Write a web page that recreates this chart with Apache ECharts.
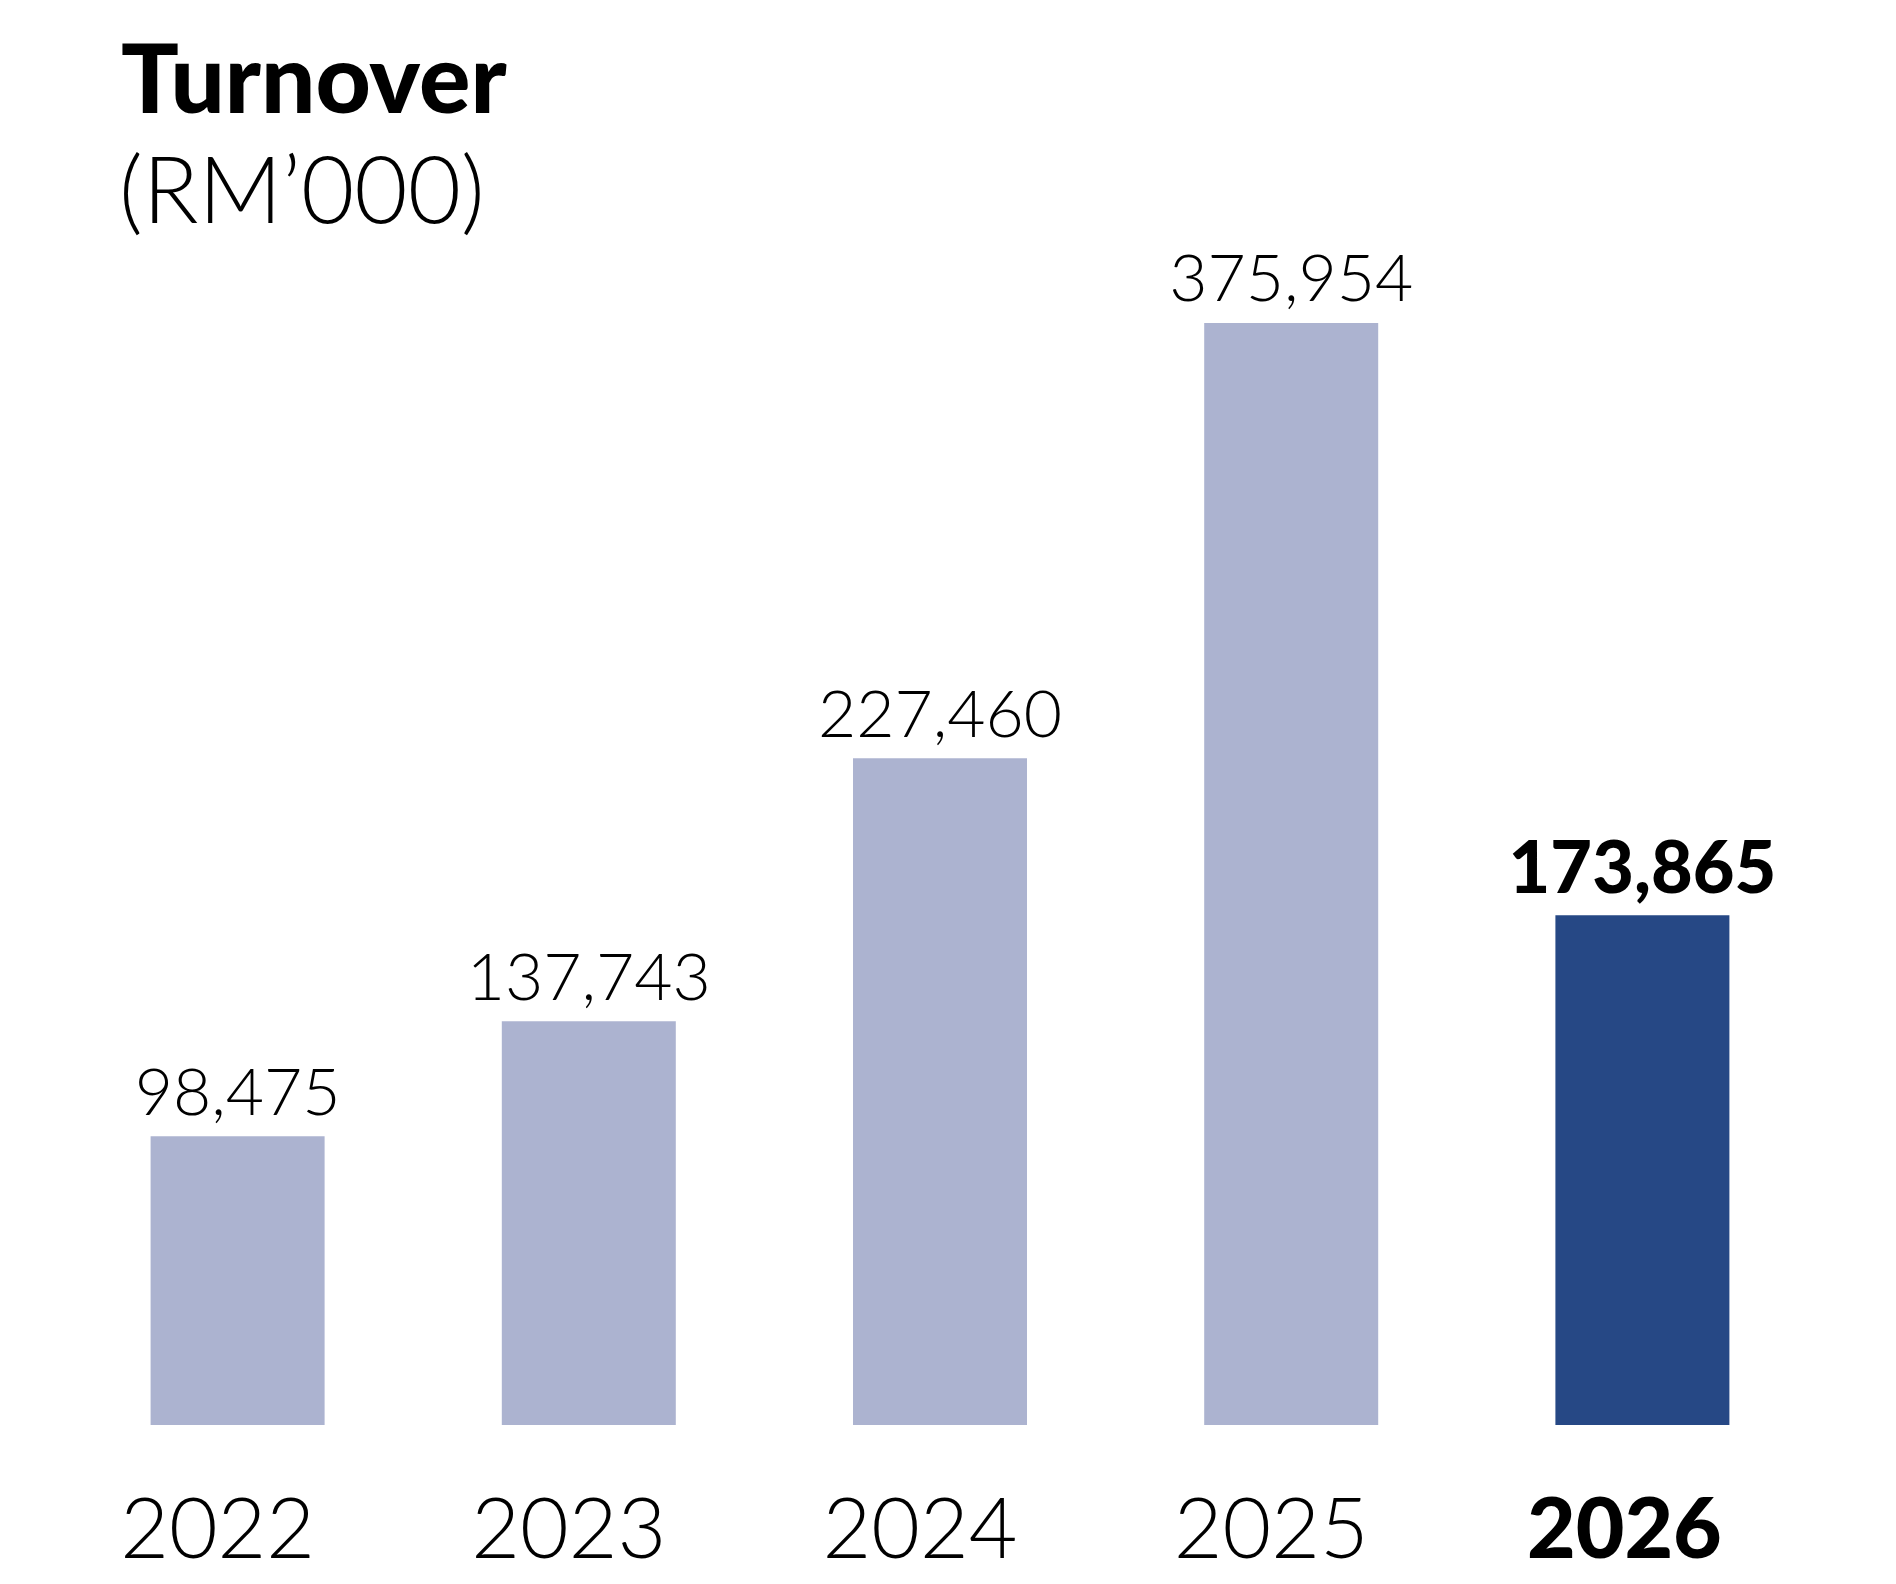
<!DOCTYPE html>
<html>
<head>
<meta charset="utf-8">
<title>Turnover</title>
<script src="https://cdn.jsdelivr.net/npm/echarts@6/dist/echarts.min.js"></script>
<style>
  html, body { margin: 0; padding: 0; background: #fff; }
  #chart { width: 1896px; height: 1584px; }
</style>
</head>
<body>
<div id="chart"></div>
<script>
// Datos del gráfico
const years = ['2022', '2023', '2024', '2025', '2026'];
const turnover = [98475, 137743, 227460, 375954, 173865];

const LIGHT = '#acb3d0';
const DARK = '#264885';
const FONT = 'Lato, "Open Sans", sans-serif';
const lastIndex = years.length - 1;

const chart = echarts.init(document.getElementById('chart'));

chart.setOption({
  animation: false,
  backgroundColor: '#fff',
  title: [
    {
      text: 'Turnover',
      left: 116,
      top: 29,
      textStyle: { fontFamily: FONT, fontWeight: 900, fontSize: 96, color: '#000' }
    },
    {
      text: '(RM’000)',
      left: 114,
      top: 142,
      textStyle: { fontFamily: FONT, fontWeight: 300, fontSize: 92, color: '#000' }
    }
  ],
  grid: { left: 62, right: 78, top: 323, bottom: 159, containLabel: false },
  xAxis: {
    type: 'category',
    data: years,
    axisLine: { show: false },
    axisTick: { show: false },
    axisLabel: {
      margin: 64,
      formatter: (value, index) => (index === lastIndex ? '{b|' + value + '}' : '{n|' + value + '}'),
      rich: {
        n: { fontFamily: FONT, fontWeight: 300, fontSize: 84, color: '#000', padding: [0, 40, 0, 0] },
        b: { fontFamily: FONT, fontWeight: 900, fontSize: 84, color: '#000', padding: [0, 36, 0, 0] }
      }
    }
  },
  yAxis: {
    type: 'value',
    min: 0,
    max: (v) => v.max,
    show: false,
    splitLine: { show: false }
  },
  series: [
    {
      type: 'bar',
      data: turnover,
      barWidth: 174,
      itemStyle: {
        color: (p) => (p.dataIndex === lastIndex ? DARK : LIGHT)
      },
      label: {
        show: true,
        position: 'top',
        distance: 10,
        formatter: (p) => {
          const txt = p.value.toLocaleString('en-US');
          return p.dataIndex === lastIndex ? '{b|' + txt + '}' : '{n|' + txt + '}';
        },
        rich: {
          n: { fontFamily: FONT, fontWeight: 300, fontSize: 66, color: '#000' },
          b: { fontFamily: FONT, fontWeight: 900, fontSize: 72, color: '#000' }
        }
      }
    }
  ]
});

window.addEventListener('resize', () => chart.resize());
</script>
</body>
</html>
